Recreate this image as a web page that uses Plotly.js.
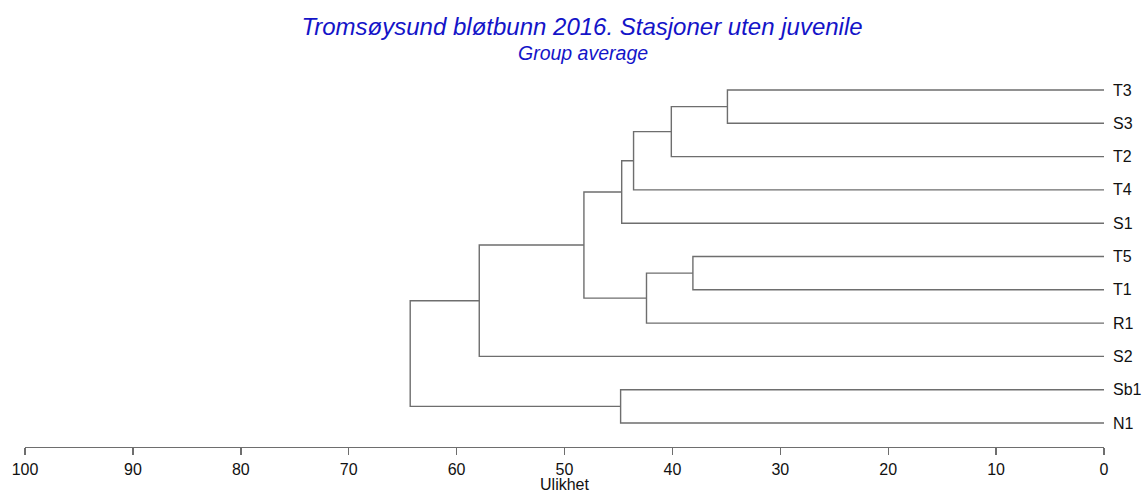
<!DOCTYPE html>
<html>
<head>
<meta charset="utf-8">
<script src="https://cdn.plot.ly/plotly-3.0.1.min.js"></script>
<style>html,body{margin:0;padding:0;background:#fff;}#chart{width:1148px;height:493px;}</style>
</head>
<body>
<div id="chart"></div>
<script>
// Leaves, top to bottom
const leaves = ['T3','S3','T2','T4','S1','T5','T1','R1','S2','Sb1','N1'];
// Merge steps (cluster ids: 0..10 leaves, 11.. merges in order)
const mergeLeft   = [0, 5, 11, 12, 13, 15, 9, 16, 18, 19];
const mergeRight  = [1, 6, 2, 7, 3, 4, 10, 14, 8, 17];
const mergeHeight = [34.9, 38.1, 40.1, 42.4, 43.6, 44.7, 44.8, 48.2, 57.9, 64.3];
const xTicks = [100, 90, 80, 70, 60, 50, 40, 30, 20, 10, 0];

const nodeY = leaves.map((_, i) => i);
const nodeH = leaves.map(() => 0);
const xs = [], ys = [];
for (let k = 0; k < mergeHeight.length; k++) {
  const a = mergeLeft[k], b = mergeRight[k], h = mergeHeight[k];
  xs.push(nodeH[a], h, h, nodeH[b], null);
  ys.push(nodeY[a], nodeY[a], nodeY[b], nodeY[b], null);
  nodeY.push((nodeY[a] + nodeY[b]) / 2);
  nodeH.push(h);
}

const font = "Arial, 'Liberation Sans', sans-serif";
const trace = {
  type: 'scatter', mode: 'lines', x: xs, y: ys,
  line: {color: '#6e6e6e', width: 1.4}, hoverinfo: 'skip', showlegend: false
};

const layout = {
  width: 1148, height: 493,
  margin: {l: 25, r: 44, t: 70, b: 46},
  paper_bgcolor: '#fff', plot_bgcolor: '#fff',
  font: {family: font, size: 16, color: '#111'},
  title: {
    text: 'Tromsøysund bløtbunn 2016. Stasjoner uten juvenile',
    font: {family: font, size: 24, color: '#1414c8', style: 'italic'},
    x: 582 / 1148, xanchor: 'center', xref: 'container',
    y: 1 - 27 / 493, yanchor: 'middle', yref: 'container'
  },
  annotations: [{
    text: 'Group average', xref: 'paper', yref: 'paper',
    x: (583 - 25) / 1079, y: (447 - 53) / 377, xanchor: 'center', yanchor: 'middle',
    showarrow: false, font: {family: font, size: 19.5, color: '#1414c8', style: 'italic'}
  }],
  xaxis: {
    range: [100, 0], tickmode: 'array', tickvals: xTicks, ticktext: xTicks.map(String),
    showgrid: false, zeroline: false, showline: true, linecolor: '#6e6e6e', linewidth: 1.4,
    ticks: 'outside', ticklen: 7, tickcolor: '#6e6e6e', tickwidth: 1.4,
    tickfont: {family: font, size: 16, color: '#111'},
    title: {text: 'Ulikhet', font: {family: font, size: 16, color: '#111'}, standoff: 2},
    fixedrange: true
  },
  yaxis: {
    range: [10.72, -0.6], side: 'right', tickmode: 'array', tickvals: leaves.map((_, i) => i),
    ticktext: leaves, showgrid: false, zeroline: false, showline: false, ticks: '',
    ticklabelstandoff: 8, tickfont: {family: font, size: 16, color: '#111'}, fixedrange: true
  }
};

Plotly.newPlot('chart', [trace], layout, {displayModeBar: false, staticPlot: true});
</script>
</body>
</html>
